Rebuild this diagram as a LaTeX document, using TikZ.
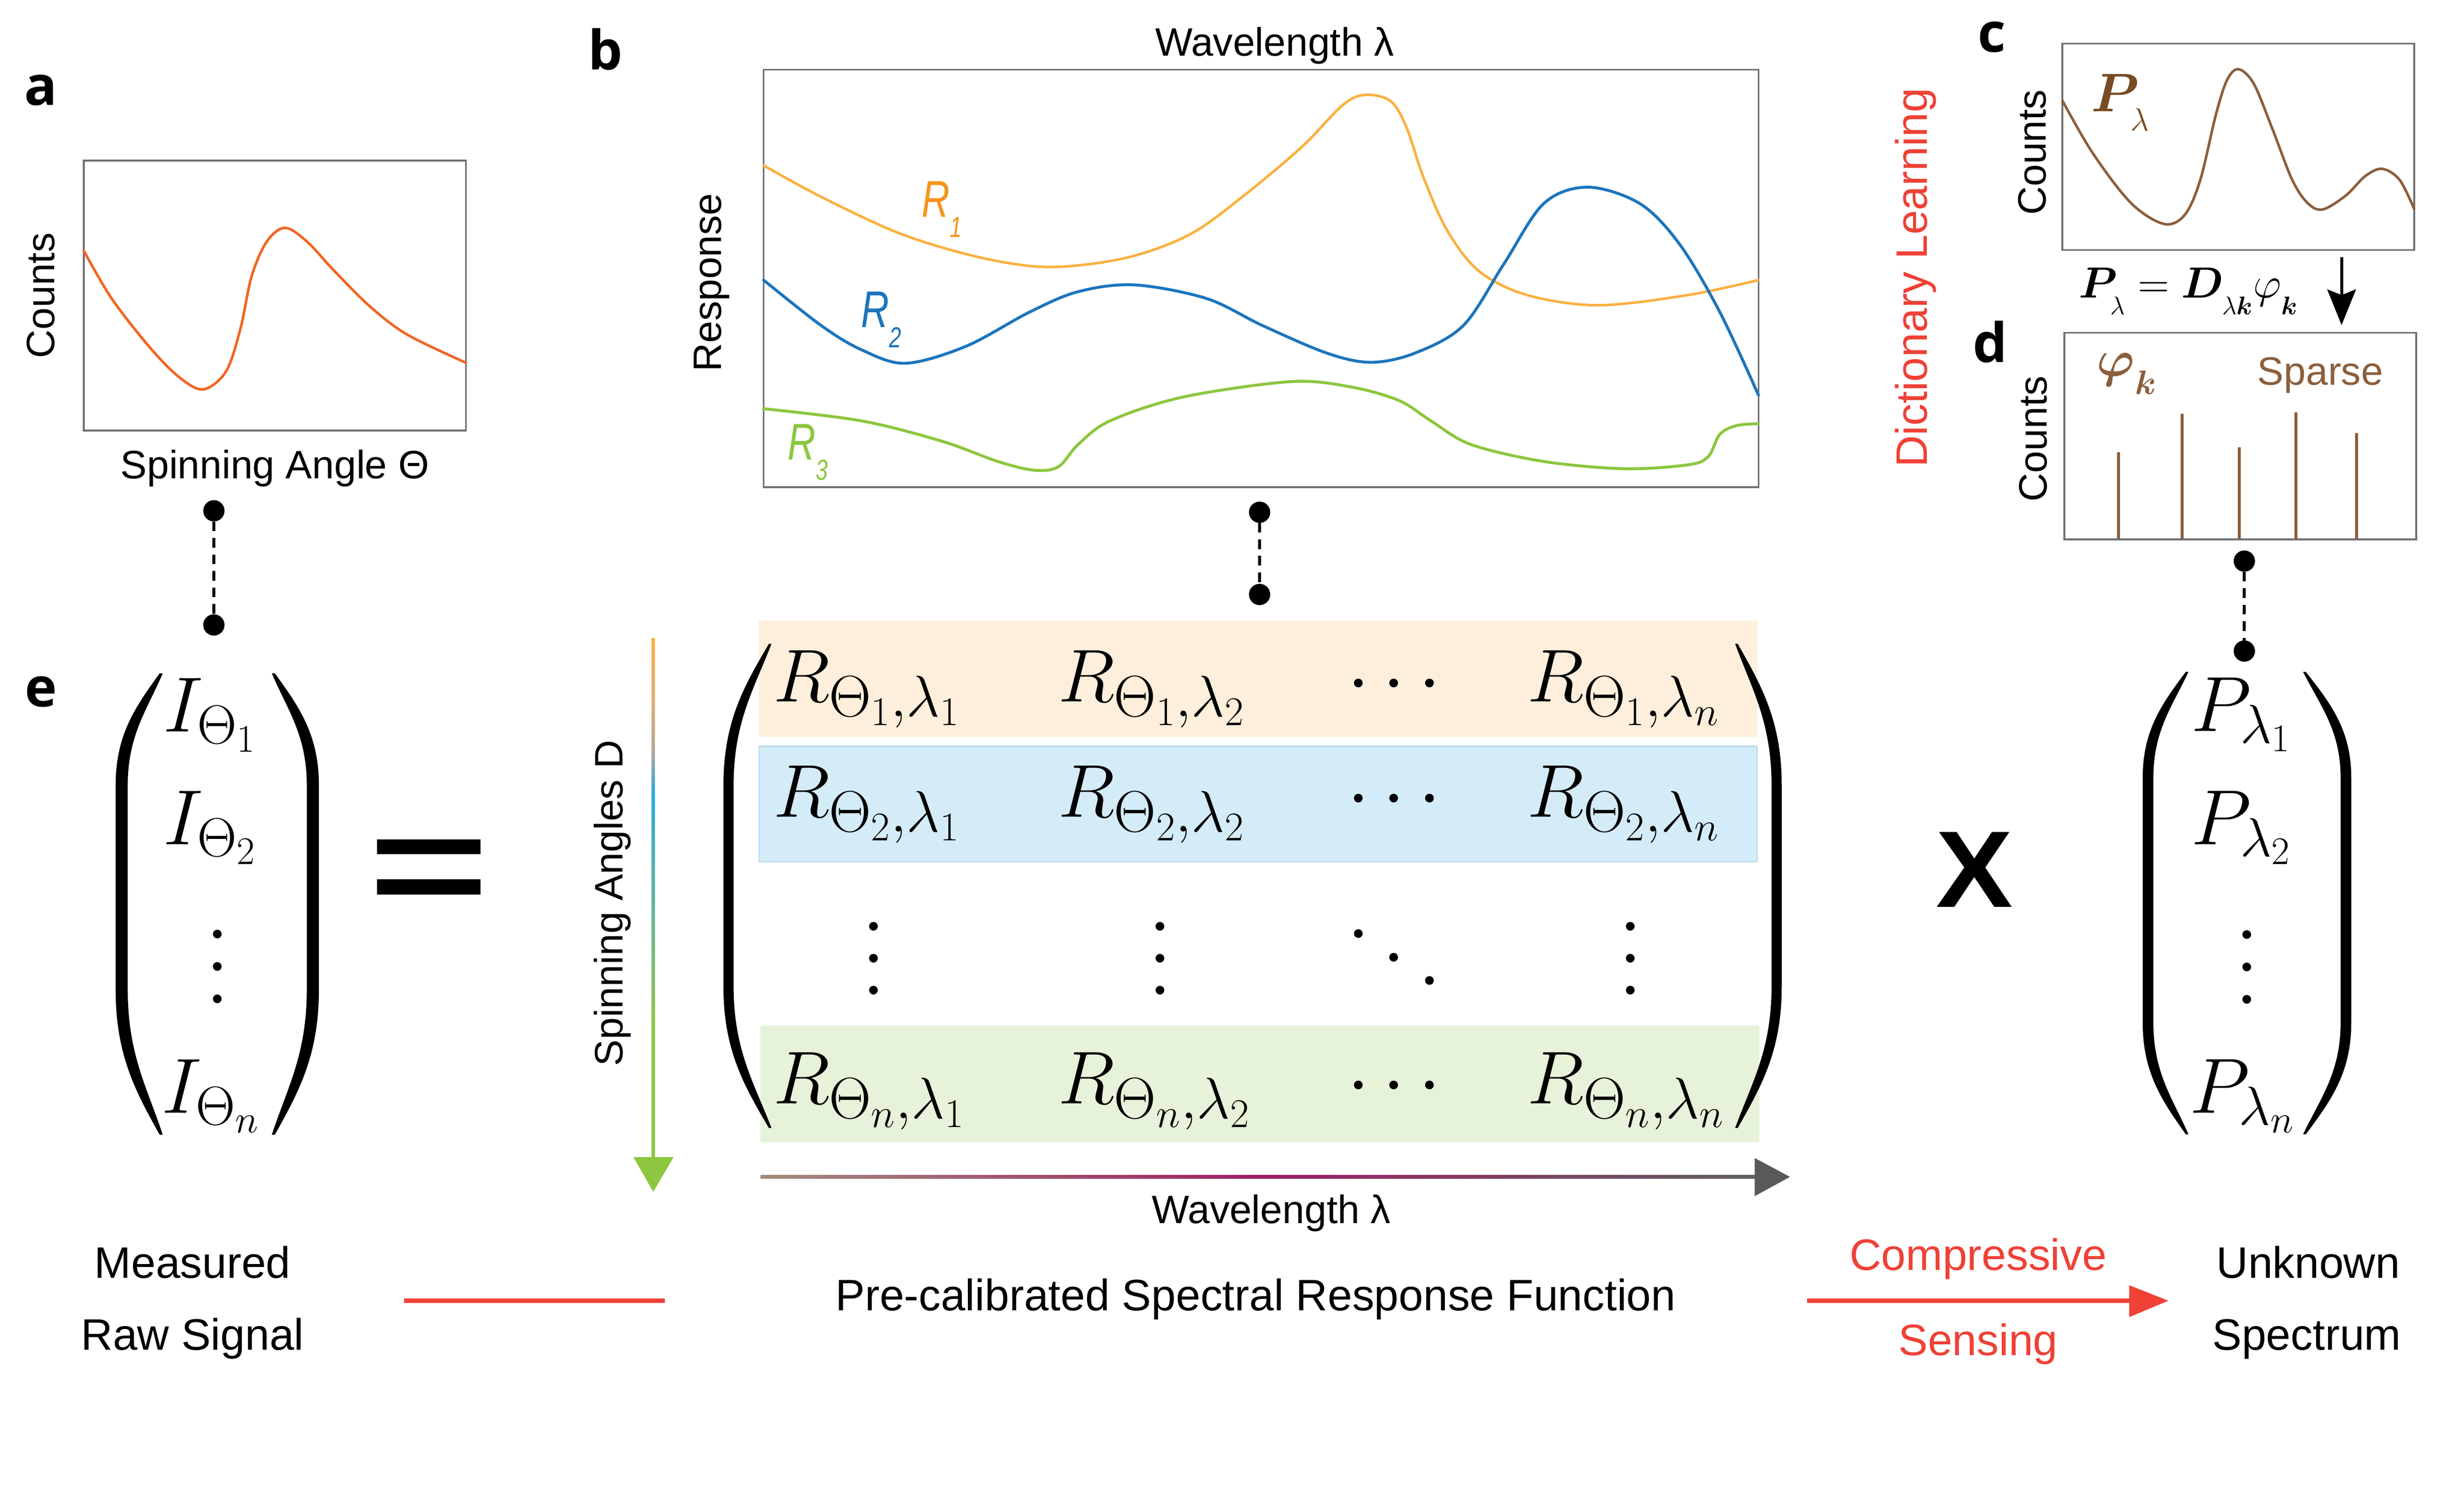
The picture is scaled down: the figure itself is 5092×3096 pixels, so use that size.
\RequirePackage{fix-cm}
\documentclass[tikz,border=0pt]{standalone}
\usepackage{amsmath,bm}
\usepackage[no-math]{fontspec}
\setmainfont{Liberation Sans}
\newfontfamily\panelfont{Open Sans}
\DeclareMathSizes{44}{44}{34.3}{24}
\DeclareMathSizes{25.6}{25.6}{15}{11}
\DeclareMathSizes{32}{32}{19}{14}
\DeclareMathSizes{30}{30}{20}{14}
\definecolor{boxgray}{HTML}{6D6E71}
\definecolor{orA}{HTML}{F26522}
\definecolor{rOne}{HTML}{FBB040}
\definecolor{rOneL}{HTML}{F7941D}
\definecolor{rTwo}{HTML}{1C75BC}
\definecolor{rThree}{HTML}{8DC63F}
\definecolor{brownc}{HTML}{8B5E3C}
\definecolor{brownd}{HTML}{754C24}
\definecolor{redc}{HTML}{EF4136}
\definecolor{rowA}{HTML}{FDEFDB}
\definecolor{rowB}{HTML}{D4ECF8}
\definecolor{rowBb}{HTML}{C5DEF0}
\definecolor{rowC}{HTML}{E6F2D9}
\definecolor{wlA}{HTML}{A38C7C}
\definecolor{wlB}{HTML}{9E1F63}
\definecolor{wlC}{HTML}{5F5F62}
\definecolor{arrgray}{HTML}{58595B}
\definecolor{spO}{HTML}{FBB040}
\definecolor{spT}{HTML}{E2AE78}
\definecolor{spG}{HTML}{B0A898}
\definecolor{spB}{HTML}{27AAE1}
\definecolor{spTe}{HTML}{4FB3B2}
\definecolor{spGr}{HTML}{72BC7E}
\definecolor{spGreen}{HTML}{8DC63F}
\pgfdeclareverticalshading{spinshade}{100bp}{color(0bp)=(spGreen); color(25bp)=(spGreen); color(38bp)=(spGreen); color(45bp)=(spGr); color(53bp)=(spTe); color(60bp)=(spB); color(64bp)=(spG); color(69bp)=(spT); color(75bp)=(spO); color(100bp)=(spO)}
\pgfdeclarehorizontalshading{wlshade}{100bp}{color(0bp)=(wlA); color(25bp)=(wlA); color(50bp)=(wlB); color(75bp)=(wlC); color(100bp)=(wlC)}
\newcommand{\fsA}{\fontsize{23.3pt}{28pt}\selectfont}
\newcommand{\fsB}{\fontsize{25.9pt}{31pt}\selectfont}
\newcommand{\fsP}{\panelfont\bfseries\fontsize{32pt}{36pt}\selectfont}
\newcommand{\fsM}{\fontsize{44pt}{50pt}\selectfont}
\newcommand{\fsV}{\fontsize{46pt}{52pt}\selectfont}
\newcommand{\fsX}{\bfseries\fontsize{64pt}{70pt}\selectfont}
\newcommand{\fsF}{\fontsize{25.6pt}{30pt}\selectfont}
\newcommand{\fsR}{\fontsize{30.4pt}{34pt}\selectfont}
\newcommand{\lowsub}[2]{\raisebox{-#1}{$\scriptstyle #2$}}
% #1 tip x, #2 outer x, #3 top y, #4 straight start, #5 straight end, #6 bottom y, #7 signed thickness
\newcommand{\drawparen}[7]{%
 \fill[black] (#1,#3) .. controls ({#2+0.45*(#1-#2)},{#3+0.30*(#4-#3)}) and (#2,{#4-0.45*(#4-#3)}) .. (#2,#4)
 -- (#2,#5) .. controls (#2,{#5+0.45*(#6-#5)}) and ({#2+0.45*(#1-#2)},{#6-0.30*(#6-#5)}) .. (#1,#6)
 -- ({#1+0.25*(#7)},#6) .. controls ({#2+(#7)+0.45*(#1-#2)},{#6-0.32*(#6-#5)}) and ({#2+(#7)},{#5+0.45*(#6-#5)}) .. ({#2+(#7)},#5)
 -- ({#2+(#7)},#4) .. controls ({#2+(#7)},{#4-0.45*(#4-#3)}) and ({#2+(#7)+0.45*(#1-#2)},{#3+0.32*(#4-#3)}) .. ({#1+0.25*(#7)},#3) -- cycle;}
\begin{document}
\begin{tikzpicture}[x=0.01cm,y=-0.01cm,
 every node/.style={inner sep=0pt,outer sep=0pt},
 lbl/.style={font=\fsA},
 big/.style={font=\fsB},
 panel/.style={font=\fsP},
 frame/.style={draw=boxgray,line width=1pt},
 dotnode/.style={circle,fill=black,minimum size=0.44cm},
 dashlink/.style={line width=1.7pt,dash pattern=on 5.7pt off 4pt},
 mtx/.style={font=\fsM,anchor=base west},
 vec/.style={font=\fsV,anchor=base west},
 curve/.style={line width=1.5pt,line join=round,line cap=round}]
\useasboundingbox (0,0) rectangle (5092,3096);
\fill[white] (0,0) rectangle (5092,3096);

% ---------- panel a ----------
\node[panel,anchor=base] (pa) at (84,217) {a};
\draw[frame] (173,332) rectangle (963,890);
\draw[curve,orA] plot[smooth,tension=0.55] coordinates {(173,518) (230,616) (306,714) (367,777) (419,805) (467,768) (497,679) (520,571) (551,500) (589,471) (635,500) (689,558) (765,634) (842,692) (963,750)};
\node[lbl,rotate=90,anchor=base] (cntA) at (113,611) {Counts};
\node[lbl,anchor=base] (spinA) at (568,989) {Spinning Angle Θ};

% ---------- panel b ----------
\node[panel,anchor=base] (pb) at (1251,144) {b};
\node[lbl,anchor=base] (wlTop) at (2634,116) {Wavelength λ};
\draw[frame] (1578,144) rectangle (3634,1007);
\draw[curve,rOne] plot[smooth,tension=0.55] coordinates {(1578,342) (1697,407) (1863,484) (2029,533) (2170,552) (2327,533) (2460,484) (2576,400) (2692,302) (2775,217) (2822,196) (2875,210) (2908,267) (2941,365) (2991,477) (3057,561) (3156,610) (3302,631) (3488,610) (3634,579)};
\draw[curve,rTwo,line width=1.7pt] plot[smooth,tension=0.55] coordinates {(1578,579) (1697,673) (1780,723) (1871,751) (1996,716) (2128,645) (2228,603) (2344,589) (2493,617) (2609,673) (2742,730) (2833,749) (2924,730) (3024,673) (3107,547) (3190,421) (3281,387) (3389,421) (3471,505) (3554,645) (3634,817)};
\draw[curve,rThree,line width=1.7pt] plot[smooth,tension=0.55] coordinates {(1578,845) (1780,870) (1946,912) (2062,954) (2137,972) (2187,965) (2228,919) (2294,870) (2444,821) (2667,789) (2792,800) (2891,828) (2957,870) (3040,919) (3190,954) (3356,969) (3488,961) (3530,944) (3554,898) (3588,880) (3634,876)};
\node[lbl,rotate=90,anchor=base] (resp) at (1490,584) {Response};
\node[font=\fsR,anchor=base west,text=rOneL] (lr1) at (1905,449) {\scalebox{0.75}[1]{\textit{R}\raisebox{-0.39em}{\fontsize{17pt}{17pt}\selectfont\textit{1}}}};
\node[font=\fsR,anchor=base west,text=rTwo] (lr2) at (1780,677) {\scalebox{0.75}[1]{\textit{R}\raisebox{-0.39em}{\fontsize{17pt}{17pt}\selectfont\textit{2}}}};
\node[font=\fsR,anchor=base west,text=rThree] (lr3) at (1628,951) {\scalebox{0.75}[1]{\textit{R}\raisebox{-0.39em}{\fontsize{17pt}{17pt}\selectfont\textit{3}}}};

% ---------- panel c ----------
\node[panel,anchor=base] (pc) at (4116,107) {c};
\node[big,rotate=90,anchor=base,text=redc] (dict) at (3982,574) {Dictionary Learning};
\draw[frame] (4262,90) rectangle (4989,517);
\draw[curve,brownc] plot[smooth,tension=0.55] coordinates {(4262,208) (4325,317) (4404,420) (4472,463) (4515,444) (4547,372) (4579,238) (4602,166) (4626,143) (4658,174) (4697,269) (4737,372) (4769,420) (4800,433) (4848,404) (4888,364) (4923,349) (4959,372) (4989,432)};
\node[lbl,rotate=90,anchor=base] (cntC) at (4228,315) {Counts};
\node[font=\fontsize{32pt}{36pt}\selectfont,anchor=base west,text=brownd] (plab) at (4322,231) {$\bm{P}_{\lowsub{6.5pt}{\lambda}}$};
\node[font=\fsF,anchor=base west] (formula) at (4296,616) {$\bm{P}_{\lowsub{6pt}{\lambda}}=\bm{D}_{\lowsub{6pt}{\lambda\bm{k}}}\varphi_{\lowsub{6pt}{\bm{k}}}$};
\coordinate (cdTop) at (4839,532);
\coordinate (cdTip) at (4839,672);
\draw[line width=1.7pt] (cdTop) -- (4839,612);
\fill (4809,598) -- (4839,610) -- (4869,598) -- (cdTip) -- cycle;

% ---------- panel d ----------
\node[panel,anchor=base] (pd) at (4113,749) {d};
\draw[frame] (4266,688) rectangle (4993,1115);
\foreach \x/\t in {4378/935,4509/855,4628/925,4745/852,4870/895}
  \draw[brownc,line width=1.7pt] (\x,1113) -- (\x,\t);
\node[lbl,rotate=90,anchor=base] (cntD) at (4230,907) {Counts};
\node[font=\fontsize{30pt}{34pt}\selectfont,anchor=base west,text=brownc] (phik) at (4333,778) {$\bm{\varphi}_{\lowsub{6pt}{\bm{k}}}$};
\node[lbl,anchor=base,text=brownc] (sparse) at (4795,796) {Sparse};

% ---------- dotted links ----------
\node[dotnode] (da1) at (442,1056) {};
\node[dotnode] (da2) at (442,1292) {};
\node[dotnode] (db1) at (2603,1059) {};
\node[dotnode] (db2) at (2603,1229) {};
\node[dotnode] (dd1) at (4638,1160) {};
\node[dotnode] (dd2) at (4638,1346) {};
\draw[dashlink] (da1) -- (da2);
\draw[dashlink] (db1) -- (db2);
\draw[dashlink] (dd1) -- (dd2);

% ---------- panel e ----------
\node[panel,anchor=base] (pe) at (85,1461) {e};
\drawparen{330}{239}{1392}{1623}{2046}{2346}{25}
\drawparen{568}{659}{1392}{1623}{2046}{2346}{-25}
\node[vec] (i1) at (338,1513) {$I_{\Theta_1}$};
\node[vec] (i2) at (338,1746) {$I_{\Theta_2}$};
\node[vec] (in) at (335,2301) {$I_{\Theta_n}$};
\foreach \y in {1931,1998,2065} \fill (449,\y) circle[radius=0.09cm];

\fill (779,1735) rectangle (993,1766);
\fill (779,1818) rectangle (993,1849);

% spinning angle arrow
\coordinate (spTop) at (1350,1319);
\coordinate (spTip) at (1350,2464);
\shade[shading=spinshade] (1347,1319) rectangle (1353,2396);
\fill[spGreen] (1309,2392) -- (1392,2392) -- (spTip) -- cycle;
\node[lbl,rotate=90,anchor=base] (spinD) at (1287,1867) {Spinning Angles D};

% matrix rows
\fill[rowA] (1568,1283) rectangle (3632,1523);
\filldraw[fill=rowB,draw=rowBb,line width=1pt] (1569,1543) rectangle (3631,1781);
\fill[rowC] (1571,2120) rectangle (3636,2362);
\drawparen{1589}{1495}{1331}{1624}{2039}{2332}{21}
\drawparen{3591}{3682}{1331}{1624}{2039}{2332}{-21}
\node[mtx] (m11) at (1598,1451) {$R_{\Theta_1,\lambda_1}$};
\node[mtx] (m12) at (2187,1451) {$R_{\Theta_1,\lambda_2}$};
\node[mtx] (m1n) at (3157,1451) {$R_{\Theta_1,\lambda_n}$};
\node[mtx] (m21) at (1598,1689) {$R_{\Theta_2,\lambda_1}$};
\node[mtx] (m22) at (2187,1689) {$R_{\Theta_2,\lambda_2}$};
\node[mtx] (m2n) at (3157,1689) {$R_{\Theta_2,\lambda_n}$};
\node[mtx] (mn1) at (1598,2282) {$R_{\Theta_n,\lambda_1}$};
\node[mtx] (mn2) at (2187,2282) {$R_{\Theta_n,\lambda_2}$};
\node[mtx] (mnn) at (3157,2282) {$R_{\Theta_n,\lambda_n}$};
\foreach \y in {1412,1650,2243} \foreach \x in {2807,2880,2954} \fill (\x,\y) circle[radius=0.09cm];
\foreach \x in {1805,2397,3369} \foreach \y in {1915,1981,2047} \fill (\x,\y) circle[radius=0.09cm];
\foreach \x/\y in {2807/1930,2880/1979,2954/2027} \fill (\x,\y) circle[radius=0.09cm];

% wavelength arrow
\coordinate (wlStart) at (1572,2433);
\coordinate (wlTip) at (3699,2433);
\shade[shading=wlshade] (1572,2429) rectangle (3628,2437);
\fill[arrgray] (3626,2394) -- (wlTip) -- (3626,2473) -- cycle;
\node[lbl,anchor=base] (wlBot) at (2627,2529) {Wavelength λ};

% times and P vector
\node[font=\fsX,anchor=base] (times) at (4080,1875) {\scalebox{1.06}[1]{X}};
\drawparen{4517}{4428}{1389}{1608}{2114}{2345}{22}
\drawparen{4765}{4859}{1389}{1608}{2114}{2345}{-22}
\node[vec] (p1) at (4528,1512) {$P_{\lambda_1}$};
\node[vec] (p2) at (4528,1746) {$P_{\lambda_2}$};
\node[vec] (pn) at (4525,2301) {$P_{\lambda_n}$};
\foreach \y in {1932,1999,2066} \fill (4643,\y) circle[radius=0.09cm];

% ---------- bottom labels ----------
\node[big,anchor=base] (meas) at (398,2642) {Measured};
\node[big,anchor=base] (raw) at (398,2791) {Raw Signal};
\coordinate (rlA) at (835,2689);
\coordinate (rlB) at (1374,2689);
\draw[redc,line width=2.6pt] (rlA) -- (rlB);
\node[big,anchor=base] (srf) at (2595,2709) {Pre-calibrated Spectral Response Function};
\coordinate (raA) at (3734,2689);
\coordinate (raTip) at (4481,2689);
\draw[redc,line width=2.6pt] (raA) -- (4405,2689);
\fill[redc] (4400,2657) -- (raTip) -- (4400,2723) -- cycle;
\node[big,anchor=base,text=redc] (comp) at (4088,2626) {Compressive};
\node[big,anchor=base,text=redc] (sens) at (4088,2802) {Sensing};
\node[big,anchor=base] (unk) at (4770,2642) {Unknown};
\node[big,anchor=base] (spec) at (4767,2791) {Spectrum};
\end{tikzpicture}
\end{document}
